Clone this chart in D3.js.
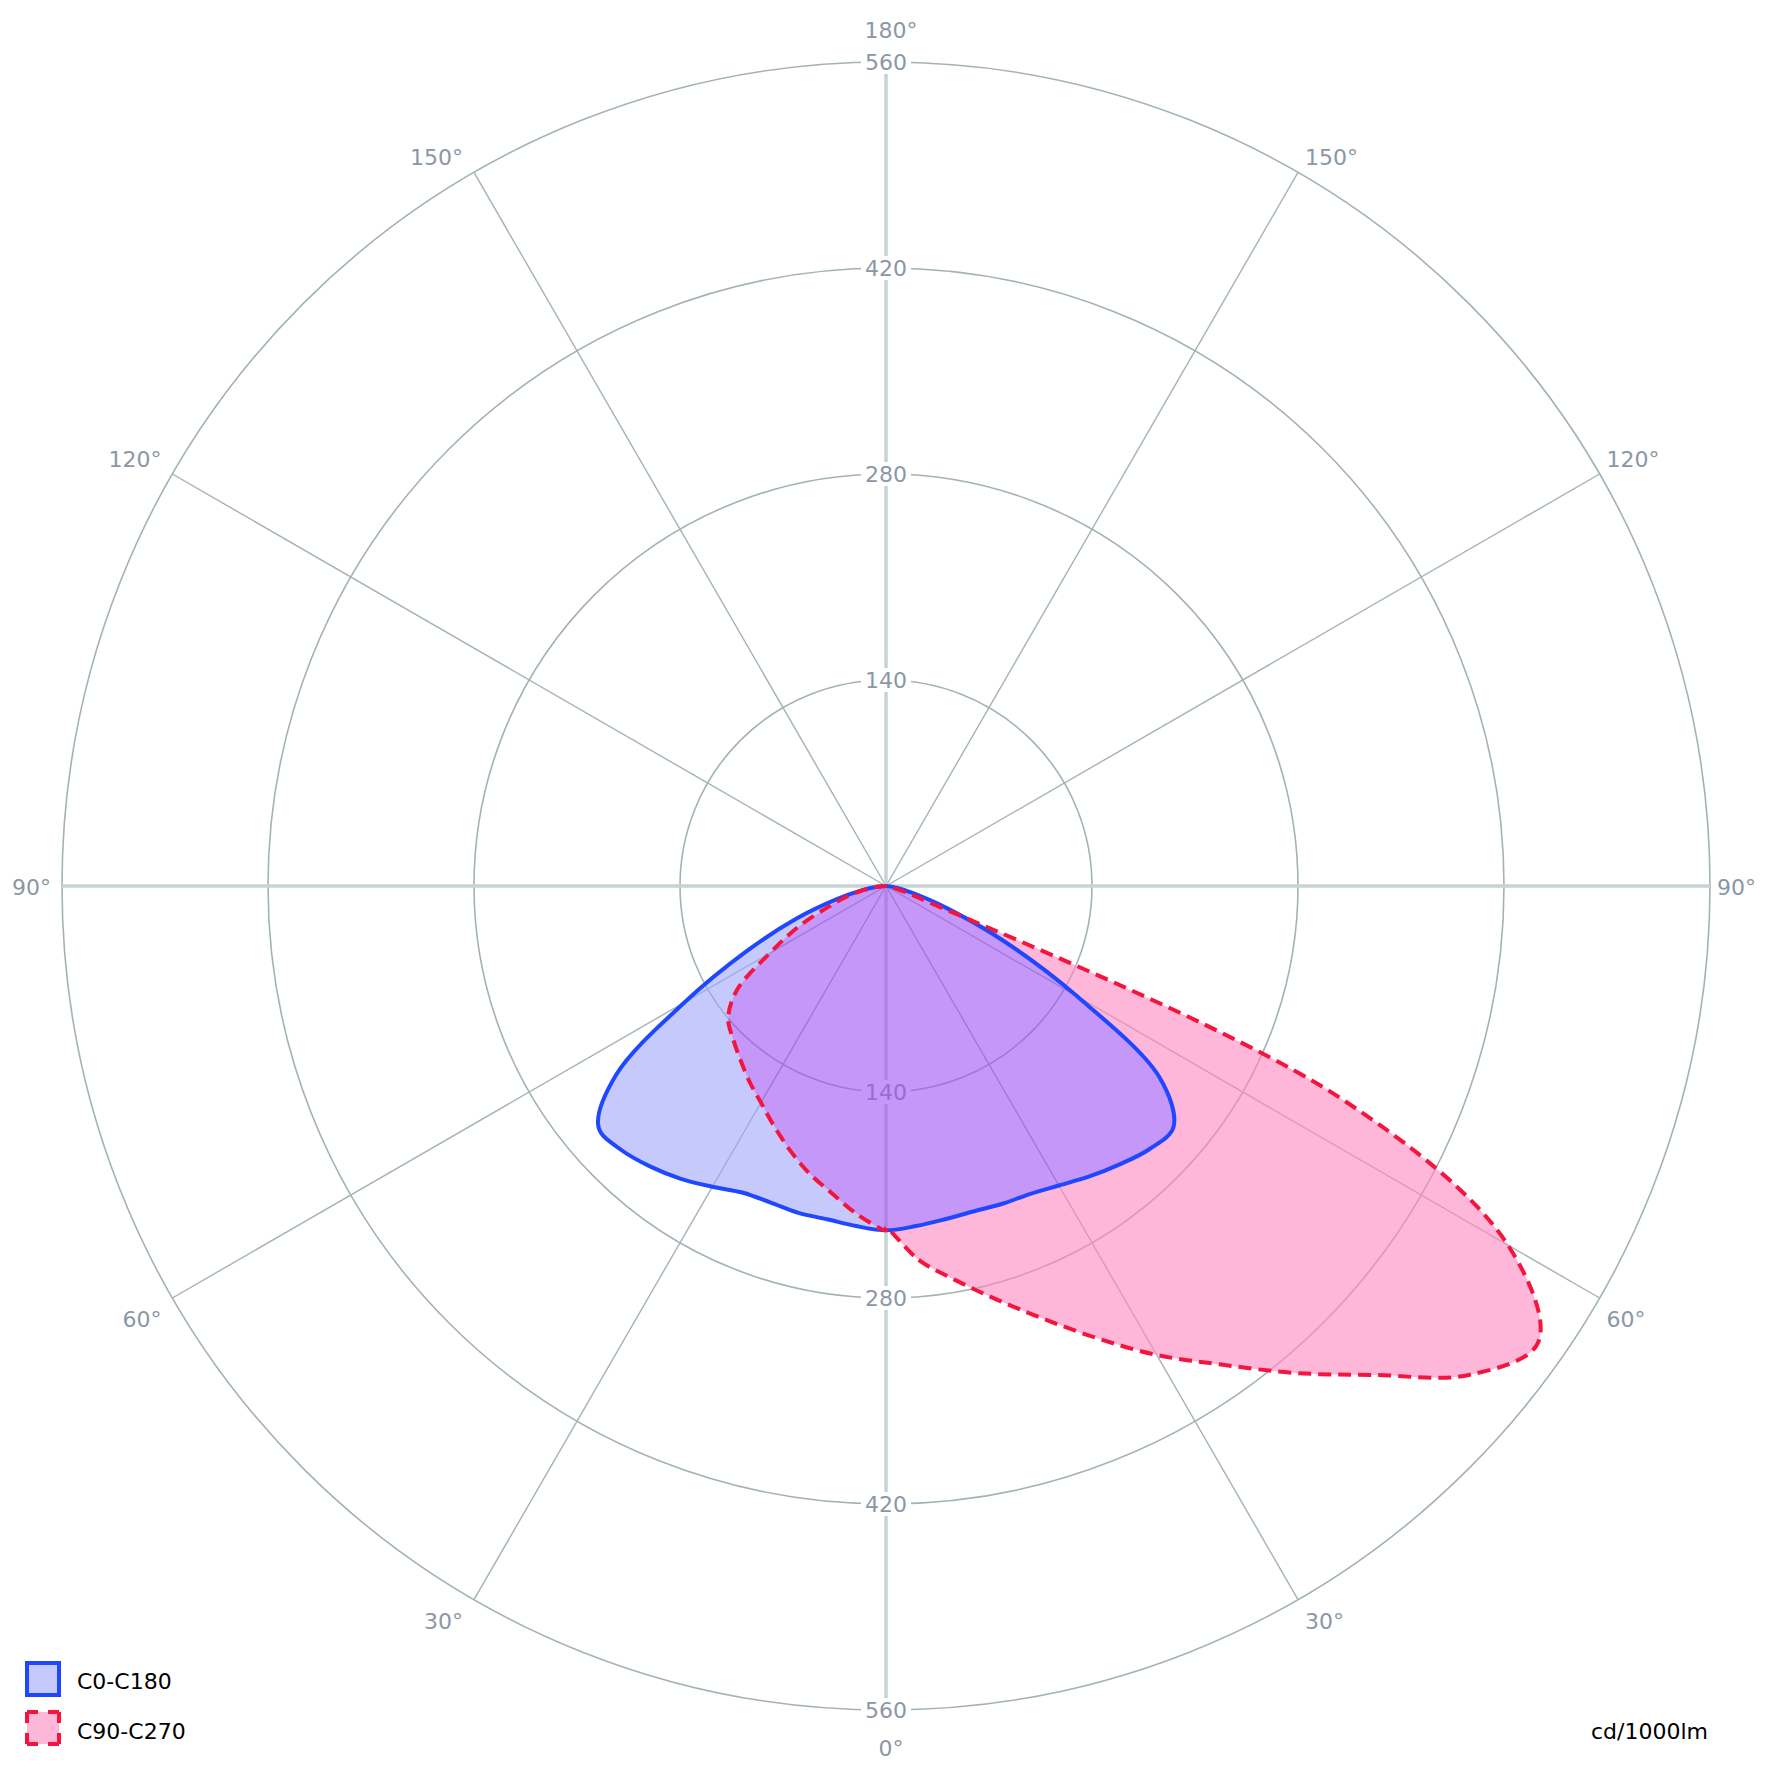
<!DOCTYPE html>
<html>
<head>
<meta charset="utf-8">
<script src="https://cdn.jsdelivr.net/npm/d3@7"></script>
<style>
  html, body { margin: 0; padding: 0; background: #ffffff; }
  svg { display: block; }
  text { font-family: "DejaVu Sans", Verdana, sans-serif; }
</style>
</head>
<body>
<svg id="chart" width="1772" height="1773"></svg>
<script>
// ---- data (cd/1000lm), gamma in degrees ----
const gammas = [0,5,10,15,20,25,30,35,40,45,50,55,60,65,70,75,80,85,90];
const c0   = [234,232,230,229,230,231,235,241,247,253,255,227,150,88,44,19,8,3,0];
const c180 = [234,232,230,230,229,230,236,243,249,254,255,224,158,104,65,35,17,6,0];
const c90  = [232,255,272,291,313,339,368,397,432,470,517,541,488,340,25,8,3,1,0];
const c270 = [234,224,212,202,191,180,170,162,154,147,140,124,91,66,42,27,15,6,0];
const radialTicks = [140, 280, 420, 560];
const spokeAngles = [30, 60, 120, 150];
const seriesNames = ["C0-C180", "C90-C270"];
const unitLabel = "cd/1000lm";

// ---- layout ----
const W = 1772, H = 1773;
const cx = 886, cy = 886, R = 824;
const svg = d3.select("#chart");
const rScale = d3.scaleLinear().domain([0, 560]).range([0, R]);
const rad = d => d * Math.PI / 180;
const pt = (g, v, side) => [cx + side * rScale(v) * Math.sin(rad(g)), cy + rScale(v) * Math.cos(rad(g))];

const gridColor = "#a3b3b5";
const axisColor = "#c6d3d3";
const labelColor = "#8b97a6";

const grid = svg.append("g");
grid.selectAll("circle.ring").data(radialTicks).enter().append("circle")
  .attr("cx", cx).attr("cy", cy).attr("r", d => rScale(d))
  .attr("fill", "none").attr("stroke", gridColor).attr("stroke-width", 1.6);
const spokes = [];
spokeAngles.forEach(a => { spokes.push([a, 1]); spokes.push([a, -1]); });
grid.selectAll("line.spoke").data(spokes).enter().append("line")
  .attr("x1", cx).attr("y1", cy)
  .attr("x2", d => pt(d[0], 560, d[1])[0]).attr("y2", d => pt(d[0], 560, d[1])[1])
  .attr("stroke", gridColor).attr("stroke-width", 1.4);
grid.append("line").attr("x1", cx).attr("y1", pt(180, 560, 1)[1]).attr("x2", cx).attr("y2", pt(0, 560, 1)[1])
  .attr("stroke", axisColor).attr("stroke-width", 3.5);
grid.append("line").attr("x1", pt(90, 560, -1)[0]).attr("y1", cy).attr("x2", pt(90, 560, 1)[0]).attr("y2", cy)
  .attr("stroke", axisColor).attr("stroke-width", 3.5);

const tickItems = [];
radialTicks.forEach(t => { tickItems.push([t, -1]); tickItems.push([t, 1]); });
const tg = grid.selectAll("g.tick").data(tickItems).enter().append("g")
  .attr("transform", d => `translate(${cx},${cy + d[1] * rScale(d[0])})`);
tg.append("rect").attr("x", -25).attr("y", -12).attr("width", 50).attr("height", 24).attr("fill", "#ffffff");
tg.append("text").attr("text-anchor", "middle").attr("dy", "0.36em")
  .attr("font-size", 22).attr("fill", labelColor).text(d => d[0]);

const angleLabels = [];
[30, 60, 90, 120, 150].forEach(a => { angleLabels.push({a, side: -1}); angleLabels.push({a, side: 1}); });
angleLabels.forEach(d => {
  const [x, y] = pt(d.a, 560, d.side);
  const dy = d.a > 90 ? -7 : (d.a < 90 ? 29 : 9);
  grid.append("text")
    .attr("x", d.side < 0 ? x - 11 : x + 7)
    .attr("y", y + dy)
    .attr("text-anchor", d.side < 0 ? "end" : "start")
    .attr("font-size", 22).attr("fill", labelColor)
    .text(d.a + "°");
});
grid.append("text").attr("x", cx + 5).attr("y", pt(180, 560, 1)[1] - 24)
  .attr("text-anchor", "middle").attr("font-size", 22).attr("fill", labelColor).text("180°");
grid.append("text").attr("x", cx + 5).attr("y", pt(0, 560, 1)[1] + 46)
  .attr("text-anchor", "middle").attr("font-size", 22).attr("fill", labelColor).text("0°");

// ---- curves ----
function shapePoints(rightVals, leftVals) {
  const pts = [];
  gammas.forEach((g, i) => pts.push(pt(g, rightVals[i], 1)));
  for (let i = gammas.length - 1; i >= 0; i--) pts.push(pt(gammas[i], leftVals[i], -1));
  const out = [];
  pts.forEach(p => {
    const last = out[out.length - 1];
    if (!last || Math.hypot(p[0] - last[0], p[1] - last[1]) > 1) out.push(p);
  });
  const f = out[0], l = out[out.length - 1];
  if (Math.hypot(f[0] - l[0], f[1] - l[1]) <= 1) out.pop();
  return out;
}
const lineGen = d3.line().curve(d3.curveCatmullRomClosed.alpha(0.5));
const bluePath = lineGen(shapePoints(c0, c180));
const redPath = lineGen(shapePoints(c90, c270));

const defs = svg.append("defs");
const mRed = defs.append("mask").attr("id", "notRed").attr("maskUnits", "userSpaceOnUse")
  .attr("x", 0).attr("y", 0).attr("width", W).attr("height", H);
mRed.append("rect").attr("width", W).attr("height", H).attr("fill", "white");
mRed.append("path").attr("d", redPath).attr("fill", "black");
const mBlue = defs.append("mask").attr("id", "notBlue").attr("maskUnits", "userSpaceOnUse")
  .attr("x", 0).attr("y", 0).attr("width", W).attr("height", H);
mBlue.append("rect").attr("width", W).attr("height", H).attr("fill", "white");
mBlue.append("path").attr("d", bluePath).attr("fill", "black");
defs.append("clipPath").attr("id", "clipRed").append("path").attr("d", redPath);

const fa = 0.6;
const fills = svg.append("g");
fills.append("path").attr("d", redPath).attr("fill", "rgb(255,135,192)").attr("fill-opacity", fa).attr("mask", "url(#notBlue)");
fills.append("path").attr("d", bluePath).attr("fill", "rgb(160,165,250)").attr("fill-opacity", fa).attr("mask", "url(#notRed)");
fills.append("path").attr("d", bluePath).attr("fill", "rgb(157,82,243)").attr("fill-opacity", fa).attr("clip-path", "url(#clipRed)");

const blueStroke = "#1f47ff";
const redStroke = "#f4153f";
svg.append("path").attr("d", bluePath).attr("fill", "none").attr("stroke", blueStroke)
  .attr("stroke-width", 4).attr("stroke-linejoin", "round");
svg.append("path").attr("d", redPath).attr("fill", "none").attr("stroke", redStroke)
  .attr("stroke-width", 4).attr("stroke-dasharray", "13,7");

// ---- legend ----
const legend = svg.append("g");
legend.append("rect").attr("x", 27).attr("y", 1663).attr("width", 32).attr("height", 32)
  .attr("fill", "#c6c9fd").attr("stroke", blueStroke).attr("stroke-width", 4);
legend.append("rect").attr("x", 27).attr("y", 1712).attr("width", 32).attr("height", 32)
  .attr("fill", "#ffb7d9").attr("stroke", redStroke).attr("stroke-width", 4).attr("stroke-dasharray", "11,10,11,0");
legend.append("text").attr("x", 77).attr("y", 1689).attr("font-size", 22).attr("fill", "#000").text(seriesNames[0]);
legend.append("text").attr("x", 77).attr("y", 1739).attr("font-size", 22).attr("fill", "#000").text(seriesNames[1]);
svg.append("text").attr("x", 1708).attr("y", 1739).attr("text-anchor", "end")
  .attr("font-size", 22).attr("fill", "#000").text(unitLabel);
</script>
</body>
</html>
